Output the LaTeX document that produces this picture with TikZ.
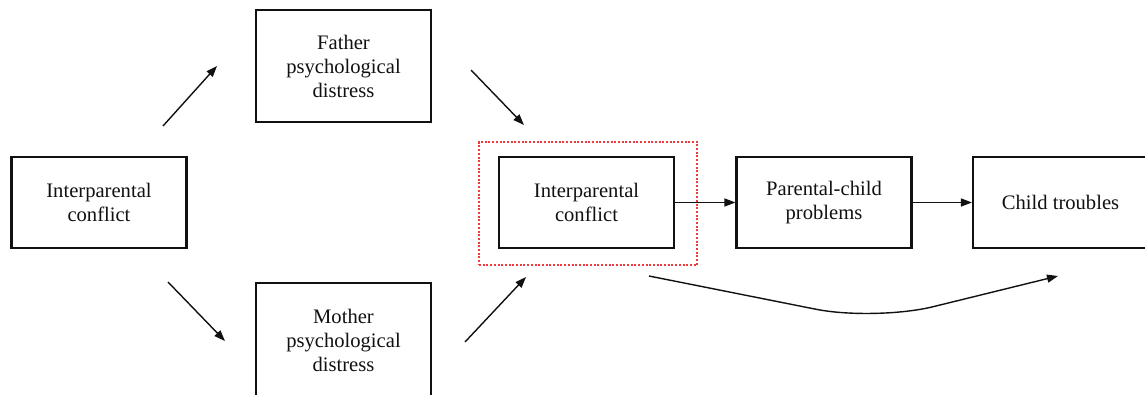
\documentclass[tikz,border=0pt]{standalone}
\usepackage{fontspec}
\setmainfont{Liberation Serif}
\usepackage{tikz}
\usetikzlibrary{arrows.meta}
\definecolor{ink}{HTML}{111111}
\definecolor{dotred}{HTML}{EE3B3B}
\tikzset{
  box/.style={draw=ink, line width=2.1pt, minimum width=175pt, minimum height=91pt, inner sep=0pt, align=center, text=ink, font=\fontsize{20.6}{24}\selectfont},
  tallbox/.style={box, minimum height=112pt},
  thinbox/.style={box, line width=1.4pt},
  redbox/.style={draw=dotred, line width=2pt, dash pattern=on 2pt off 1.7pt, minimum width=218pt, minimum height=123pt, inner sep=0pt},
  arr/.style={draw=ink, line width=1.4pt, -{Triangle[length=11pt,width=8pt]}}
}
\begin{document}
\begin{tikzpicture}[x=1pt,y=-1pt]
  \useasboundingbox (0,0) rectangle (1145,394);
  \fill[white] (0,0) rectangle (1145,394);

  \coordinate (a1s) at (163,126);
  \coordinate (a1e) at (217,66);
  \coordinate (a2s) at (471,70);
  \coordinate (a2e) at (524,125);
  \coordinate (a3s) at (168,282);
  \coordinate (a3e) at (225,341);
  \coordinate (a4s) at (465,342);
  \coordinate (a4e) at (526,277);
  \coordinate (cs) at (649,276);
  \coordinate (cb) at (875,321);
  \coordinate (ce) at (1058,276);

  \node[box] (ipc) at (99,202.5) {Interparental\\conflict};
  \node[tallbox] (fpd) at (343.5,66) {Father\\psychological\\distress};
  \node[tallbox, minimum height=115pt] (mpd) at (343.5,340.5) {Mother\\psychological\\distress};
  \node[redbox] (hl) at (588,203.5) {};
  \node[thinbox] (ipc2) at (586.5,202.5) {Interparental\\conflict};
  \node[box] (pcp) at (824,202.5) {Parental-child\\problems};
  \node[box] (ct) at (1060.5,202.5) {Child troubles};

  \draw[arr] (a1s) -- (a1e);
  \draw[arr] (a2s) -- (a2e);
  \draw[arr] (a3s) -- (a3e);
  \draw[arr] (a4s) -- (a4e);
  \draw[arr] (ipc2) -- (pcp);
  \draw[arr] (pcp) -- (ct);
  \draw[arr, rounded corners=60pt] (cs) -- (cb) -- (ce);
\end{tikzpicture}
\end{document}
